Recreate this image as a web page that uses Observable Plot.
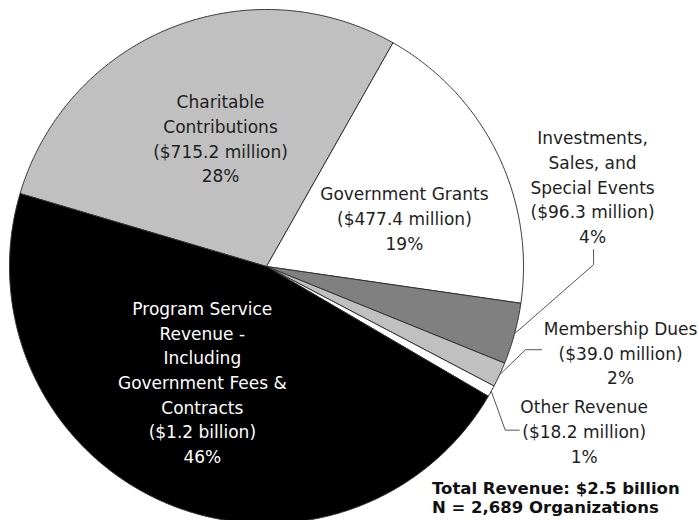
<!DOCTYPE html>
<html><head><meta charset="utf-8">
<script src="https://cdn.jsdelivr.net/npm/d3@7"></script>
<script src="https://cdn.jsdelivr.net/npm/@observablehq/plot@0.6"></script>
<style>
html,body{margin:0;padding:0;background:#fff;overflow:hidden}
#wrap{position:relative;width:699px;height:520px}
#foot{position:absolute;left:432px;top:480px;font:bold 16.5px "DejaVu Sans";line-height:18.5px;color:#111;white-space:nowrap}
</style></head><body>
<div id="wrap"><div id="foot">Total Revenue: $2.5 billion<br>N = 2,689 Organizations</div></div>
<script>
// ---- data ----
const categories = ["Charitable Contributions", "Government Grants", "Investments, Sales, and Special Events", "Membership Dues", "Other Revenue", "Program Service Revenue"];
const valuesMillions = [715.2, 477.4, 96.3, 39.0, 18.2, 1154];
const nameLines = [["Charitable", "Contributions"], ["Government Grants"], ["Investments,", "Sales, and", "Special Events"], ["Membership Dues"], ["Other Revenue"], ["Program Service", "Revenue -", "Including", "Government Fees &", "Contracts"]];
const amountLabels = ["($715.2 million)", "($477.4 million)", "($96.3 million)", "($39.0 million)", "($18.2 million)", "($1.2 billion)"];
const percentLabels = ["28%", "19%", "4%", "2%", "1%", "46%"];

// ---- style ----
const fills = ["#c0c0c0", "#ffffff", "#808080", "#c0c0c0", "#ffffff", "#000000"];
const textFills = ["#1e1e1e", "#1e1e1e", "#1e1e1e", "#1e1e1e", "#1e1e1e", "#ffffff"];
const W = 699, H = 520, CX = 266, CY = 266, R = 257;
const START = -73.5 * Math.PI / 180;
// label placement: inside labels at fraction of radius + pixel nudge; outside labels from arc midpoint
const placement = [
  {inside: true, k: 0.55, off: [7, 2]},
  {inside: true, k: 0.55, off: [11, 13]},
  {inside: false, off: [78, -148], leader: [[0, 0], [79, -69], [79, -84]]},
  {inside: false, off: [121, -23], leader: [[0, 0], [26, -25], [42, -25]]},
  {inside: false, off: [93, 39], leader: [[0, 0], [14, 39], [28, 39]]},
  {inside: true, k: 0.55, off: [-8, -15]}
];

const arcs = d3.pie().sort(null).startAngle(START).endAngle(START + 2 * Math.PI)(valuesMillions);
const polar = (a, r) => [r * Math.sin(a), r * Math.cos(a)];

const sliceMarks = arcs.map((a, i) => {
  const pts = [{x: 0, y: 0}];
  const n = Math.max(2, Math.ceil((a.endAngle - a.startAngle) / (0.4 * Math.PI / 180)));
  for (let j = 0; j <= n; j++) {
    const t = a.startAngle + (a.endAngle - a.startAngle) * j / n;
    const [x, y] = polar(t, 1);
    pts.push({x, y});
  }
  pts.push({x: 0, y: 0});
  return Plot.line(pts, {x: "x", y: "y", fill: fills[i], stroke: "#333", strokeWidth: 1, strokeLinejoin: "round"});
});

const labels = [];
const leaders = [];
arcs.forEach((a, i) => {
  const mid = (a.startAngle + a.endAngle) / 2;
  const p = placement[i];
  const [ax, ay] = p.inside ? polar(mid, p.k) : polar(mid, 1);
  labels.push({
    x: ax + p.off[0] / R,
    y: ay - p.off[1] / R,
    text: [...nameLines[i], amountLabels[i], percentLabels[i]].join("\n"),
    white: textFills[i] === "#ffffff",
    cat: categories[i]
  });
  if (p.leader) p.leader.forEach(([ox, oy]) => leaders.push({x: ax + ox / R, y: ay - oy / R, key: categories[i]}));
});

const textOpts = {x: "x", y: "y", text: "text", fontSize: 17, fontFamily: "DejaVu Sans", lineHeight: 1.45, lineAnchor: "middle", textAnchor: "middle"};

const chart = Plot.plot({
  width: W, height: H, margin: 0,
  x: {domain: [-CX / R, (W - CX) / R], axis: null},
  y: {domain: [-(H - CY) / R, CY / R], axis: null},
  style: {background: "transparent"},
  marks: [
    ...sliceMarks,
    Plot.line(leaders, {x: "x", y: "y", z: "key", stroke: "#555", strokeWidth: 1}),
    Plot.text(labels.filter(d => !d.white), {...textOpts, fill: "#1e1e1e"}),
    Plot.text(labels.filter(d => d.white), {...textOpts, fill: "#ffffff"})
  ]
});
chart.style.position = "absolute";
chart.style.left = "0";
chart.style.top = "0";
const wrap = document.getElementById("wrap");
wrap.insertBefore(chart, wrap.firstChild);
</script>
</body></html>
